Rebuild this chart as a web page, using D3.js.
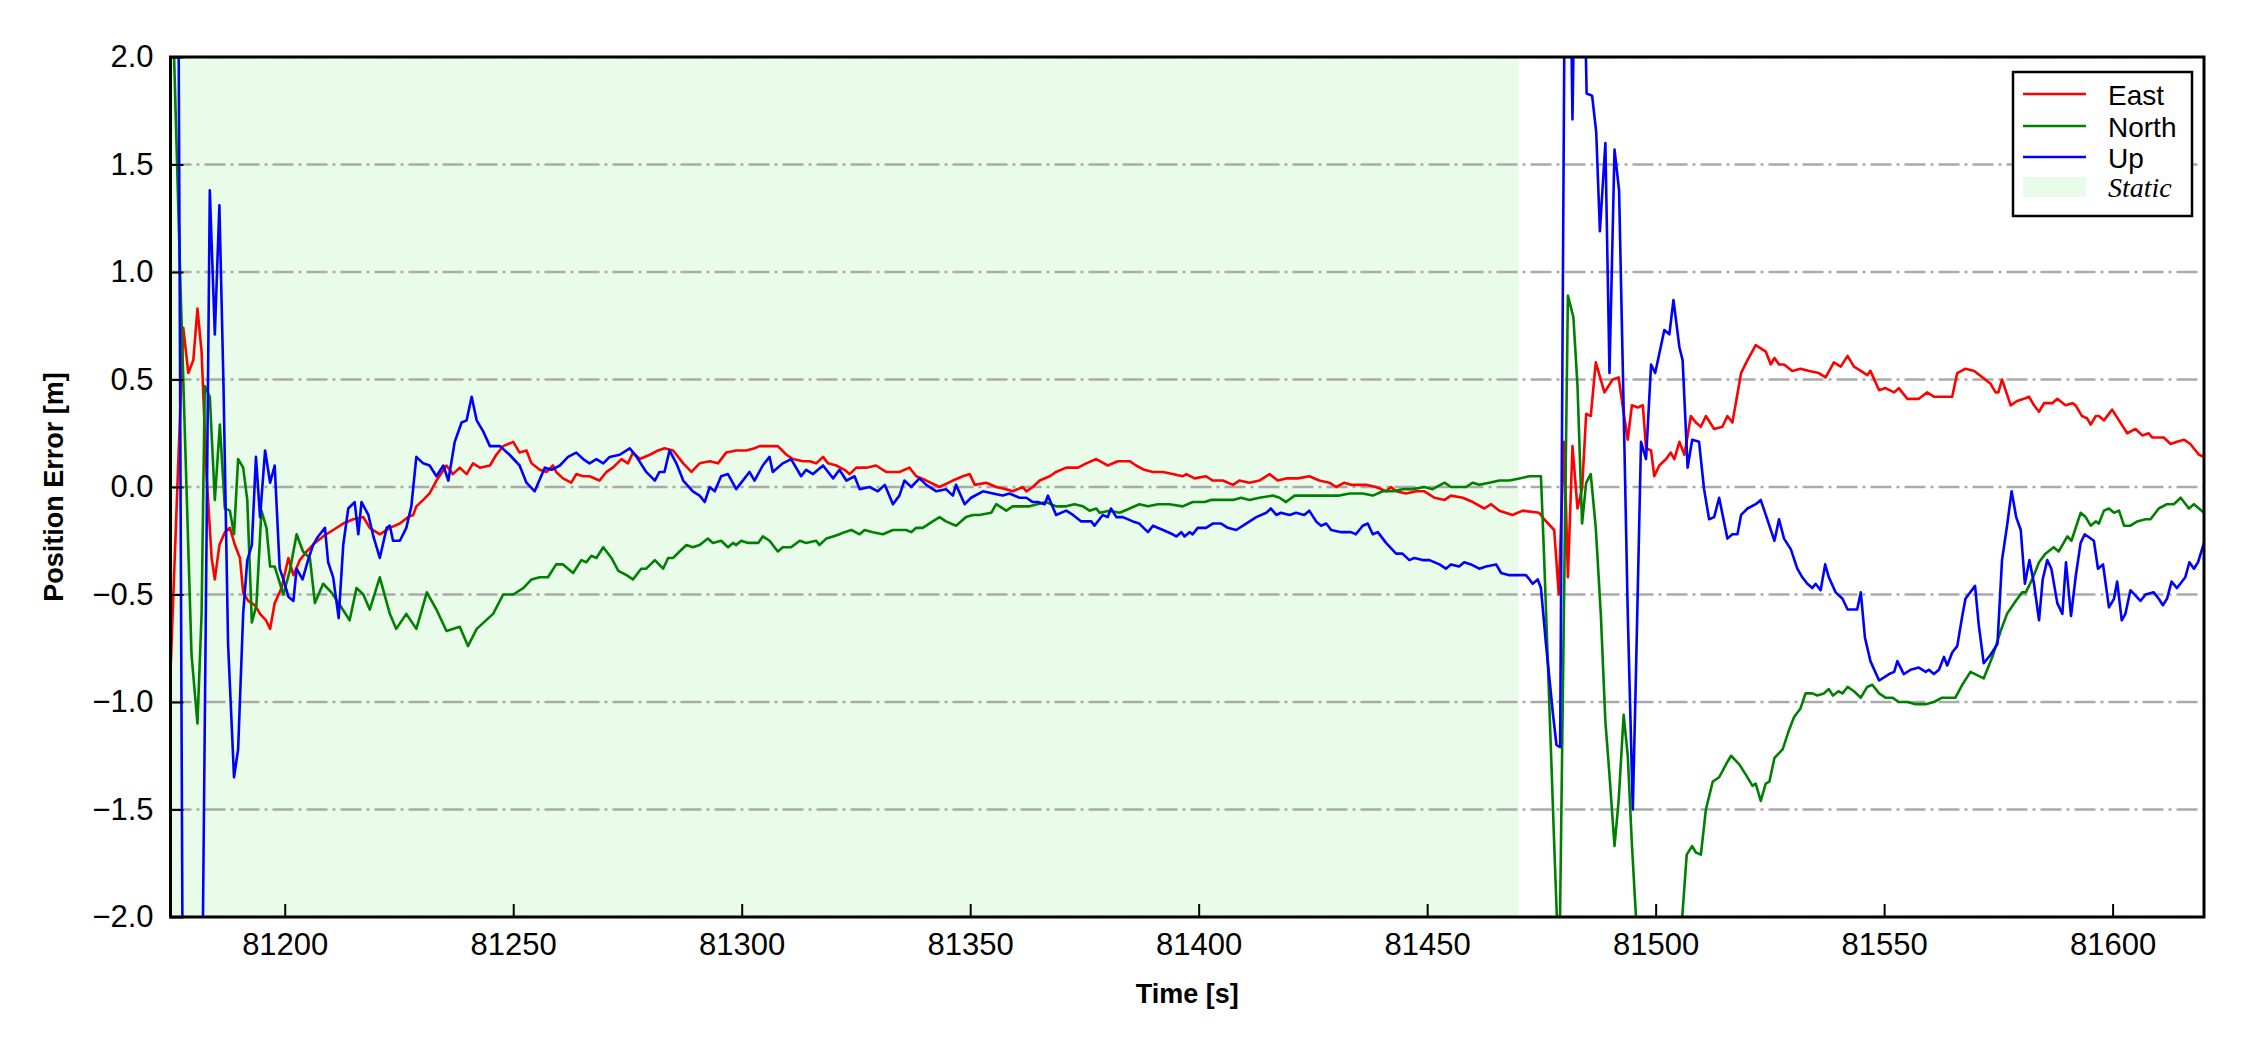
<!DOCTYPE html>
<html>
<head>
<meta charset="utf-8">
<script src="https://cdn.jsdelivr.net/npm/d3@7"></script>
<style>
  html, body { margin: 0; padding: 0; background: #ffffff; }
  svg { display: block; }
</style>
</head>
<body>
<svg id="chart" width="2250" height="1050"></svg>
<script>
// ---------------- DATA ----------------
const xTicks = [81200, 81250, 81300, 81350, 81400, 81450, 81500, 81550, 81600];
const yTicks = [-2.0, -1.5, -1.0, -0.5, 0.0, 0.5, 1.0, 1.5, 2.0];
const xDomain = [81175, 81620];
const yDomain = [-2.0, 2.0];
const staticSpan = [81175, 81470];
const seriesNames = ["East", "North", "Up"];
const staticLabel = "Static";
const xLabel = "Time [s]";
const yLabel = "Position Error [m]";

const east = [
[81175,-0.86],[81177.8,0.74],[81178.9,0.53],[81180,0.59],[81180.9,0.83],[81181.8,0.63],[81182.9,0.05],[81184,-0.33],[81184.7,-0.43],
[81185.7,-0.27],[81186.9,-0.21],[81188,-0.19],[81189.1,-0.27],[81190.2,-0.33],[81190.9,-0.49],[81192,-0.53],[81193.5,-0.55],[81194.6,-0.59],
[81195.9,-0.62],[81196.8,-0.66],[81197.8,-0.54],[81199.3,-0.47],[81200.8,-0.33],[81201.9,-0.41],[81203.3,-0.34],[81204.8,-0.30],[81206.6,-0.26],
[81208.4,-0.23],[81210.6,-0.20],[81212.8,-0.17],[81215,-0.15],[81217.2,-0.14],[81218.6,-0.19],[81220.8,-0.22],[81223,-0.19],[81225.2,-0.17],
[81227,-0.14],[81228.1,-0.13],[81228.8,-0.09],[81230.3,-0.06],[81231.7,-0.03],[81233.2,0.03],[81235.4,0.10],[81236.8,0.06],[81238.3,0.09],
[81239.8,0.06],[81241.2,0.11],[81242.7,0.09],[81244.9,0.10],[81246.3,0.15],[81247.8,0.19],[81250,0.21],[81251.4,0.16],[81252.9,0.17],
[81254,0.11],[81255.8,0.08],[81257.3,0.07],[81258.7,0.10],[81259.4,0.07],[81260.9,0.04],[81262.7,0.02],[81263.8,0.06],[81265.3,0.05],
[81266.7,0.05],[81268.9,0.03],[81270.4,0.07],[81271.8,0.09],[81273.7,0.13],[81275.1,0.11],[81276.2,0.16],[81277.7,0.13],[81279.9,0.15],
[81281.7,0.17],[81283.1,0.18],[81285,0.17],[81287.2,0.11],[81289,0.07],[81290.8,0.11],[81293,0.12],[81294.8,0.11],[81296.6,0.16],
[81298.8,0.17],[81301,0.17],[81302.8,0.18],[81303.9,0.19],[81306.1,0.19],[81307.9,0.19],[81309.8,0.15],[81311.2,0.13],[81313.4,0.12],
[81314.9,0.12],[81316.3,0.11],[81317.8,0.14],[81318.9,0.11],[81320.7,0.10],[81322.5,0.08],[81323.6,0.06],[81325.1,0.09],[81327.3,0.09],
[81329.4,0.10],[81331.6,0.07],[81334.5,0.07],[81336.7,0.09],[81338.2,0.05],[81340.4,0.03],[81343.3,0.00],[81346.2,0.03],[81348.4,0.05],
[81349.9,0.06],[81351,0.01],[81353.5,0.02],[81355.7,0.00],[81357.9,-0.01],[81359.3,-0.02],[81361.5,0.00],[81362.3,-0.02],[81363.7,0.00],
[81365.2,0.03],[81367.4,0.05],[81368.8,0.07],[81371,0.09],[81373.6,0.09],[81375.4,0.11],[81377.6,0.13],[81380.1,0.10],[81382.3,0.12],
[81384.9,0.12],[81386.3,0.10],[81388.1,0.08],[81390,0.07],[81392.2,0.07],[81394.3,0.06],[81396.5,0.05],[81397.3,0.06],[81399.1,0.04],
[81401.6,0.05],[81403.1,0.03],[81405.3,0.03],[81407.5,0.01],[81408.9,0.03],[81411.1,0.02],[81413.3,0.03],[81415.5,0.06],[81417.3,0.03],
[81419.1,0.04],[81421.7,0.04],[81424.2,0.05],[81426.4,0.03],[81428.6,0.02],[81430.1,0.00],[81431.9,0.02],[81433.3,0.01],[81436.6,0.01],
[81438.8,0.00],[81441,-0.02],[81442.1,0.00],[81443.2,-0.02],[81445.4,-0.03],[81447.6,-0.02],[81449.4,-0.02],[81451.6,-0.05],[81453.8,-0.06],
[81455.2,-0.04],[81457.8,-0.05],[81460,-0.07],[81462.5,-0.10],[81464,-0.08],[81465.8,-0.11],[81468.7,-0.13],[81470.9,-0.11],[81474.5,-0.12],
[81475.6,-0.15],[81477.8,-0.20],[81478.8,-0.50],[81479.3,-0.17],[81480,0.21],[81480.8,-0.42],[81481.8,0.19],[81482.9,-0.10],[81483.9,-0.01],
[81484.8,0.34],[81485.8,0.33],[81486.9,0.58],[81488.8,0.44],[81490.6,0.50],[81491.9,0.51],[81493.1,0.33],[81493.9,0.22],[81494.8,0.38],
[81496.1,0.37],[81497.2,0.38],[81497.9,0.18],[81499,0.17],[81499.7,0.05],[81500.8,0.10],[81502.3,0.13],[81503.3,0.16],[81504.1,0.13],
[81505.2,0.21],[81506.3,0.15],[81507.7,0.33],[81508.8,0.30],[81509.9,0.28],[81511,0.33],[81512.8,0.27],[81514.6,0.28],[81515.7,0.33],
[81516.8,0.30],[81518.7,0.53],[81520.1,0.59],[81521.9,0.66],[81524.1,0.63],[81525.2,0.57],[81526,0.60],[81527,0.57],[81528.1,0.57],
[81529.9,0.54],[81531.7,0.55],[81533.6,0.54],[81535.7,0.53],[81537.2,0.51],[81539,0.58],[81540.5,0.56],[81542,0.61],[81543.4,0.56],
[81544.9,0.54],[81546.3,0.52],[81547,0.54],[81548.9,0.45],[81550.3,0.46],[81552.2,0.44],[81553.2,0.46],[81555.1,0.41],[81557.6,0.41],
[81559.4,0.44],[81560.9,0.42],[81563.1,0.42],[81564.9,0.42],[81566,0.53],[81567.8,0.55],[81569.7,0.54],[81571.5,0.51],[81573.3,0.48],
[81574.4,0.44],[81575,0.44],[81575.8,0.50],[81577.7,0.38],[81579.1,0.40],[81580.6,0.41],[81581.7,0.42],[81582.8,0.38],[81583.9,0.35],
[81585,0.39],[81586.8,0.39],[81587.9,0.41],[81589.7,0.38],[81591.2,0.39],[81591.9,0.38],[81593.3,0.33],[81594.4,0.32],[81595.2,0.29],
[81596.3,0.33],[81597,0.33],[81598.1,0.31],[81599.9,0.36],[81601.4,0.31],[81603.2,0.25],[81605,0.27],[81606.5,0.24],[81607.9,0.25],
[81608.7,0.23],[81610.1,0.23],[81611.2,0.23],[81612.7,0.20],[81614.1,0.21],[81615.6,0.22],[81617,0.20],[81618.9,0.15],[81620,0.14]
];

const north = [
[81175,2.6],[81177.1,1.0],[81178.2,0.21],[81179.6,-0.78],[81180.9,-1.10],[81181.8,-0.59],[81182.5,0.47],[81183.6,0.42],[81184.7,-0.06],
[81185.8,0.29],[81186.9,-0.10],[81188,-0.11],[81188.9,-0.22],[81189.8,0.13],[81190.9,0.09],[81191.8,-0.06],[81192.8,-0.63],[81193.8,-0.55],
[81194.9,-0.11],[81196,-0.19],[81196.8,-0.37],[81197.8,-0.37],[81199.7,-0.50],[81201.1,-0.39],[81202.6,-0.22],[81204,-0.30],[81205.5,-0.33],
[81206.6,-0.54],[81208.4,-0.45],[81210.2,-0.49],[81212.1,-0.55],[81214.2,-0.62],[81215.7,-0.47],[81217.2,-0.50],[81218.6,-0.57],[81220.8,-0.42],
[81223,-0.59],[81224.4,-0.66],[81226.6,-0.59],[81228.8,-0.66],[81231.1,-0.49],[81233.2,-0.57],[81235.4,-0.67],[81238.3,-0.65],[81240.1,-0.74],
[81242,-0.66],[81245.6,-0.59],[81247.8,-0.50],[81250,-0.50],[81252.2,-0.47],[81254,-0.43],[81255.8,-0.42],[81257.6,-0.42],[81259.4,-0.36],
[81260.9,-0.36],[81263.1,-0.40],[81264.9,-0.34],[81266,-0.35],[81267.1,-0.32],[81268.2,-0.33],[81269.7,-0.28],[81271.5,-0.33],[81273,-0.39],
[81274.8,-0.41],[81276.2,-0.43],[81278,-0.38],[81279.1,-0.38],[81281,-0.34],[81282.8,-0.38],[81283.9,-0.33],[81285,-0.33],[81286.4,-0.30],
[81287.9,-0.27],[81289.3,-0.28],[81290.8,-0.27],[81292.6,-0.24],[81293.7,-0.26],[81295.5,-0.25],[81297,-0.28],[81298.1,-0.26],[81298.8,-0.27],
[81299.9,-0.25],[81301.4,-0.26],[81303.6,-0.26],[81304.6,-0.23],[81306.1,-0.25],[81307.9,-0.30],[81309,-0.28],[81310.8,-0.28],[81312.7,-0.25],
[81314.1,-0.26],[81316.3,-0.25],[81317,-0.27],[81318.5,-0.24],[81320,-0.23],[81321.4,-0.22],[81322.5,-0.21],[81324,-0.20],[81325.8,-0.22],
[81326.9,-0.20],[81328.7,-0.21],[81330.9,-0.22],[81333.1,-0.20],[81336,-0.20],[81337.1,-0.21],[81338.2,-0.19],[81339.6,-0.19],[81341.8,-0.16],
[81343.3,-0.14],[81344.7,-0.16],[81346.9,-0.18],[81349.1,-0.14],[81350.6,-0.13],[81352,-0.13],[81354.6,-0.12],[81355.7,-0.08],[81357.9,-0.11],
[81359.3,-0.09],[81363,-0.09],[81366.6,-0.07],[81368.8,-0.09],[81371,-0.09],[81372.8,-0.08],[81374.7,-0.09],[81376.1,-0.11],[81377.6,-0.10],
[81378.3,-0.12],[81380.5,-0.11],[81382.7,-0.12],[81384.9,-0.10],[81387,-0.08],[81388.9,-0.09],[81391.1,-0.08],[81393.6,-0.08],[81396.5,-0.09],
[81398.7,-0.07],[81401.3,-0.07],[81402.7,-0.06],[81407.5,-0.06],[81409.3,-0.05],[81411.1,-0.06],[81413.3,-0.05],[81416.2,-0.04],[81417.7,-0.05],
[81419.1,-0.07],[81421,-0.04],[81425,-0.04],[81427.9,-0.04],[81430.8,-0.04],[81433,-0.03],[81435.9,-0.03],[81438.1,-0.04],[81440.3,-0.02],
[81442.5,-0.02],[81444.6,-0.01],[81446.8,-0.01],[81449.4,0.00],[81451.2,-0.01],[81453.8,0.02],[81455.2,0.00],[81458.5,0.00],[81460,0.02],
[81461.4,0.01],[81463.6,0.02],[81465.8,0.03],[81468,0.03],[81470.2,0.04],[81472.4,0.05],[81474.9,0.05],[81475.6,-0.33],[81476.7,-0.99],
[81477.8,-1.66],[81478.9,-2.3],[81480.8,0.89],[81482,0.79],[81482.9,0.47],[81483.9,-0.17],[81484.8,0.02],[81485.8,0.06],[81486.9,-0.19],
[81488,-0.59],[81489,-1.09],[81489.9,-1.34],[81491,-1.67],[81491.9,-1.46],[81493,-1.06],[81493.9,-1.25],[81494.8,-1.66],[81495.7,-2.0],
[81497,-2.4],[81500,-2.6],[81502.5,-2.5],[81504.8,-2.3],[81506.8,-1.71],[81508,-1.67],[81508.8,-1.70],[81509.9,-1.71],[81511,-1.50],
[81512.5,-1.37],[81513.9,-1.35],[81515.4,-1.29],[81516.5,-1.25],[81518.3,-1.29],[81519.8,-1.34],[81521.2,-1.39],[81521.9,-1.38],[81523,-1.46],
[81524.1,-1.38],[81524.9,-1.37],[81526,-1.26],[81527.8,-1.22],[81529.2,-1.13],[81530.3,-1.07],[81531.7,-1.03],[81532.8,-0.96],[81534.3,-0.96],
[81535.4,-0.97],[81536.8,-0.96],[81537.9,-0.94],[81538.8,-0.97],[81540,-0.95],[81540.9,-0.96],[81542,-0.93],[81543.4,-0.95],[81544.9,-0.98],
[81546.3,-0.93],[81547.4,-0.92],[81548.9,-0.96],[81550.3,-0.98],[81551.8,-0.98],[81553.2,-1.00],[81555.1,-1.00],[81556.9,-1.01],[81559.1,-1.01],
[81560.9,-1.00],[81562.7,-0.98],[81565.6,-0.98],[81567.1,-0.92],[81568.9,-0.86],[81571.8,-0.89],[81573.7,-0.79],[81575.5,-0.67],[81576.9,-0.59],
[81578.8,-0.53],[81580.2,-0.49],[81581,-0.49],[81582.4,-0.43],[81583.9,-0.35],[81585.3,-0.31],[81587.1,-0.28],[81588.2,-0.30],[81590.1,-0.23],
[81591,-0.25],[81593,-0.12],[81594.1,-0.14],[81595.2,-0.18],[81596.3,-0.16],[81597,-0.17],[81598.1,-0.11],[81599.2,-0.10],[81600.3,-0.12],
[81601.4,-0.11],[81602.5,-0.18],[81603.9,-0.18],[81605.4,-0.16],[81607.2,-0.15],[81608.3,-0.15],[81610.1,-0.10],[81611.9,-0.08],[81613.4,-0.08],
[81614.9,-0.05],[81616.7,-0.10],[81617.8,-0.08],[81620,-0.12]
];

const up = [
[81175,11.0],[81178,-4.0],[81180,-5.5],[81181,-4.5],[81183.6,1.38],[81184.7,0.71],[81185.7,1.31],[81186.6,0.47],[81187.6,-0.73],
[81188.9,-1.35],[81189.8,-1.22],[81190.9,-0.59],[81191.8,-0.34],[81192.8,-0.27],[81193.7,0.14],[81194.6,-0.14],[81195.7,0.17],[81196.8,0.02],
[81197.8,0.10],[81198.9,-0.38],[81199.7,-0.43],[81200.8,-0.51],[81201.9,-0.53],[81202.6,-0.38],[81203.9,-0.43],[81205.1,-0.34],[81206.2,-0.27],
[81207.3,-0.23],[81208.8,-0.19],[81209.5,-0.35],[81210.6,-0.42],[81211.8,-0.61],[81212.8,-0.27],[81213.9,-0.10],[81215.3,-0.07],[81216.1,-0.22],
[81216.8,-0.07],[81218.3,-0.13],[81219.4,-0.23],[81220.8,-0.33],[81222.3,-0.19],[81223,-0.18],[81223.7,-0.25],[81225.2,-0.25],[81226.6,-0.19],
[81227.7,-0.09],[81228.8,0.14],[81230.3,0.11],[81231.7,0.10],[81233.2,0.05],[81234.7,0.10],[81235.8,0.03],[81237.2,0.21],[81238.7,0.30],
[81239.8,0.31],[81240.9,0.42],[81242,0.31],[81243.4,0.26],[81244.9,0.19],[81247.1,0.19],[81249.2,0.15],[81251.4,0.10],[81252.9,0.02],
[81254.7,-0.02],[81256.9,0.09],[81258.4,0.08],[81260.2,0.10],[81262,0.14],[81263.8,0.16],[81265.3,0.13],[81266.7,0.11],[81268.2,0.13],
[81269.7,0.11],[81271.1,0.14],[81273.3,0.15],[81275.5,0.18],[81277,0.14],[81279.1,0.07],[81281,0.03],[81282,0.07],[81283.1,0.07],
[81284.2,0.17],[81285.7,0.11],[81287.2,0.03],[81289.3,-0.02],[81290.8,-0.04],[81291.9,-0.07],[81293,0.00],[81294.1,-0.02],[81295.5,0.05],
[81297,0.06],[81298.8,-0.01],[81301.7,0.07],[81302.8,0.03],[81304.6,0.10],[81306.1,0.14],[81306.8,0.07],[81309,0.11],[81310.8,0.13],
[81313,0.05],[81314.1,0.08],[81315.6,0.06],[81317.8,0.10],[81320,0.04],[81321.4,0.08],[81322.9,0.03],[81324.7,0.05],[81325.8,-0.01],
[81328,0.00],[81329.8,-0.02],[81331.3,0.01],[81333.1,-0.08],[81334.5,-0.04],[81335.6,0.03],[81337.1,0.00],[81338.9,0.04],[81340.4,0.01],
[81342.6,-0.02],[81344.7,-0.01],[81346.2,-0.04],[81346.9,0.01],[81348.8,-0.08],[81350.2,-0.05],[81352.8,-0.02],[81355,-0.03],[81357.1,-0.04],
[81358.6,-0.03],[81360.8,-0.05],[81362.3,-0.05],[81363.7,-0.07],[81364.8,-0.07],[81366.3,-0.08],[81367,-0.04],[81368.8,-0.13],[81371,-0.11],
[81372.5,-0.13],[81374.3,-0.16],[81376.5,-0.16],[81377.2,-0.18],[81379,-0.13],[81380.1,-0.14],[81380.8,-0.10],[81382,-0.14],[81383.4,-0.14],
[81385.6,-0.16],[81387,-0.17],[81388.9,-0.21],[81390,-0.18],[81392.2,-0.20],[81394.3,-0.22],[81395.1,-0.23],[81396.2,-0.21],[81396.9,-0.23],
[81398,-0.21],[81398.7,-0.22],[81399.8,-0.19],[81401.6,-0.19],[81403.1,-0.17],[81404.9,-0.17],[81406.4,-0.19],[81408.2,-0.20],[81410.4,-0.17],
[81412.6,-0.14],[81414.8,-0.12],[81415.8,-0.10],[81417,-0.13],[81418,-0.12],[81419.9,-0.13],[81421.3,-0.12],[81423.1,-0.13],[81424.2,-0.11],
[81425.7,-0.16],[81426.8,-0.18],[81427.9,-0.17],[81429,-0.20],[81431.2,-0.21],[81433.3,-0.21],[81434.4,-0.22],[81435.9,-0.18],[81437,-0.17],
[81438.1,-0.22],[81439.2,-0.21],[81441,-0.26],[81443.2,-0.31],[81444.6,-0.31],[81446.1,-0.34],[81447.2,-0.33],[81449,-0.34],[81450.5,-0.34],
[81452.7,-0.36],[81454.1,-0.38],[81455.2,-0.36],[81457,-0.37],[81458.1,-0.35],[81459.6,-0.36],[81461.4,-0.38],[81462.9,-0.37],[81465.1,-0.36],
[81466.2,-0.40],[81468,-0.41],[81471.6,-0.41],[81472.4,-0.43],[81473.1,-0.45],[81474.2,-0.43],[81474.9,-0.47],[81476,-0.73],[81477.5,-1.05],
[81478.3,-1.20],[81479.1,-1.21],[81480.5,3.8],[81481.8,1.71],[81482.8,3.2],[81483.8,3.0],[81484.9,1.83],[81486.1,1.82],[81487,1.65],
[81487.8,1.19],[81489,1.60],[81489.9,0.53],[81491,1.57],[81492,1.38],[81493.1,0.26],[81493.9,-0.59],[81495,-1.50],[81495.7,-0.86],
[81496.8,0.21],[81497.9,0.13],[81499,0.57],[81499.9,0.53],[81500.8,0.62],[81501.9,0.73],[81503,0.71],[81503.9,0.87],[81505.2,0.65],
[81505.9,0.59],[81507,0.09],[81508,0.22],[81509.5,0.21],[81510.6,-0.01],[81511.7,-0.15],[81512.8,-0.14],[81513.9,-0.05],[81515.7,-0.24],
[81516.8,-0.22],[81517.9,-0.22],[81518.7,-0.13],[81520.1,-0.10],[81521.9,-0.08],[81523,-0.06],[81524.1,-0.13],[81526,-0.25],[81527,-0.15],
[81528.1,-0.24],[81529.6,-0.29],[81531,-0.38],[81532.1,-0.42],[81533.2,-0.45],[81534.3,-0.47],[81535,-0.45],[81536.1,-0.48],[81537.1,-0.36],
[81537.9,-0.42],[81539.4,-0.49],[81540.9,-0.52],[81542,-0.57],[81544.1,-0.57],[81544.9,-0.49],[81545.8,-0.70],[81547,-0.81],[81548.9,-0.90],
[81551.1,-0.87],[81552.2,-0.86],[81552.9,-0.81],[81554.3,-0.87],[81555.8,-0.85],[81557.6,-0.84],[81559.1,-0.86],[81559.8,-0.85],[81560.9,-0.87],
[81562,-0.85],[81563.1,-0.79],[81563.8,-0.83],[81564.9,-0.77],[81566,-0.74],[81567.1,-0.60],[81567.8,-0.52],[81569.9,-0.46],[81570.7,-0.64],
[81571.8,-0.82],[81573.3,-0.78],[81574.8,-0.73],[81575.8,-0.34],[81576.9,-0.18],[81577.9,-0.02],[81578.9,-0.14],[81579.9,-0.20],[81580.8,-0.45],
[81581.8,-0.34],[81582.8,-0.45],[81583.9,-0.62],[81584.7,-0.43],[81585.7,-0.34],[81586.6,-0.38],[81587.9,-0.54],[81589,-0.59],[81589.8,-0.35],
[81590.9,-0.60],[81591.9,-0.42],[81593,-0.26],[81593.9,-0.22],[81595.9,-0.25],[81596.8,-0.38],[81597.9,-0.36],[81599.2,-0.56],[81600.3,-0.52],
[81601,-0.44],[81602,-0.62],[81602.8,-0.59],[81603.9,-0.48],[81606.1,-0.53],[81607.2,-0.50],[81609,-0.49],[81610.1,-0.52],[81611,-0.55],
[81611.9,-0.52],[81612.9,-0.44],[81614.1,-0.47],[81615.9,-0.42],[81616.8,-0.35],[81617.8,-0.38],[81618.7,-0.35],[81620,-0.26]
];

const seriesData = [east, north, up];
const seriesColors = ["#ff0000", "#008000", "#0000ff"];
const staticColor = "#e9fce9";

// ---------------- LAYOUT ----------------
const W = 2250, H = 1050;
const plot = { left: 170.5, right: 2204, top: 57, bottom: 917 };

const svg = d3.select("#chart");
svg.append("rect").attr("width", W).attr("height", H).attr("fill", "#ffffff");

const x = d3.scaleLinear().domain(xDomain).range([plot.left, plot.right]);
const y = d3.scaleLinear().domain(yDomain).range([plot.bottom, plot.top]);

svg.append("defs").append("clipPath").attr("id", "plotclip")
  .append("rect")
  .attr("x", plot.left).attr("y", plot.top)
  .attr("width", plot.right - plot.left).attr("height", plot.bottom - plot.top);

const g = svg.append("g").attr("clip-path", "url(#plotclip)");

// static shading
g.append("rect")
  .attr("x", x(staticSpan[0]))
  .attr("y", plot.top)
  .attr("width", x(staticSpan[1]) - x(staticSpan[0]))
  .attr("height", plot.bottom - plot.top)
  .attr("fill", staticColor);

// grid lines (horizontal, dash-dot)
g.selectAll("line.grid")
  .data(yTicks)
  .enter().append("line")
  .attr("class", "grid")
  .attr("x1", plot.left).attr("x2", plot.right)
  .attr("y1", d => y(d)).attr("y2", d => y(d))
  .attr("stroke", "#aaaaaa")
  .attr("stroke-width", 2.6)
  .attr("stroke-dasharray", "21,5,3,5");

// series lines
const line = d3.line().x(d => x(d[0])).y(d => y(d[1]));
seriesData.forEach((data, i) => {
  g.append("path")
    .datum(data)
    .attr("d", line)
    .attr("fill", "none")
    .attr("stroke", seriesColors[i])
    .attr("stroke-width", 2.6)
    .attr("stroke-linejoin", "round");
});

// axes
const fmtY = d => (d < 0 ? "\u2212" : "") + Math.abs(d).toFixed(1);
const yAxis = d3.axisLeft(y).tickValues(yTicks).tickFormat(fmtY).tickSize(-13).tickPadding(17);
const xAxis = d3.axisBottom(x).tickValues(xTicks).tickFormat(d3.format("d")).tickSize(-13).tickPadding(16);

const gy = svg.append("g").attr("transform", `translate(${plot.left},0)`).call(yAxis);
const gx = svg.append("g").attr("transform", `translate(0,${plot.bottom})`).call(xAxis);
[gx, gy].forEach(ax => {
  ax.select(".domain").remove();
  ax.selectAll(".tick line").attr("stroke", "#000").attr("stroke-width", 2);
  ax.selectAll(".tick text")
    .attr("fill", "#000")
    .style("font-family", "'Liberation Sans', Arial, sans-serif")
    .style("font-size", "31px");
});

// frame
svg.append("rect")
  .attr("x", plot.left).attr("y", plot.top)
  .attr("width", plot.right - plot.left).attr("height", plot.bottom - plot.top)
  .attr("fill", "none").attr("stroke", "#000").attr("stroke-width", 3);

// axis labels
svg.append("text")
  .attr("x", (plot.left + plot.right) / 2).attr("y", 1003)
  .attr("text-anchor", "middle")
  .style("font-family", "'Liberation Sans', Arial, sans-serif")
  .style("font-weight", "bold").style("font-size", "27px")
  .text(xLabel);

svg.append("text")
  .attr("transform", `translate(63,${(plot.top + plot.bottom) / 2}) rotate(-90)`)
  .attr("text-anchor", "middle")
  .style("font-family", "'Liberation Sans', Arial, sans-serif")
  .style("font-weight", "bold").style("font-size", "27px")
  .text(yLabel);

// legend
const lg = svg.append("g");
lg.append("rect")
  .attr("x", 2013).attr("y", 72).attr("width", 179).attr("height", 144)
  .attr("fill", "#ffffff").attr("stroke", "#000").attr("stroke-width", 2.5);
const legendRows = [94, 126, 157];
seriesNames.forEach((name, i) => {
  lg.append("line")
    .attr("x1", 2023).attr("x2", 2086)
    .attr("y1", legendRows[i]).attr("y2", legendRows[i])
    .attr("stroke", seriesColors[i]).attr("stroke-width", 2.6);
  lg.append("text")
    .attr("x", 2108).attr("y", legendRows[i] + 10.5)
    .style("font-family", "'Liberation Sans', Arial, sans-serif")
    .style("font-size", "28px")
    .text(name);
});
lg.append("rect")
  .attr("x", 2023).attr("y", 177).attr("width", 63).attr("height", 20)
  .attr("fill", staticColor);
lg.append("text")
  .attr("x", 2108).attr("y", 197)
  .style("font-family", "'Liberation Serif', 'Times New Roman', serif")
  .style("font-style", "italic")
  .style("font-size", "28px")
  .text(staticLabel);
</script>
</body>
</html>
